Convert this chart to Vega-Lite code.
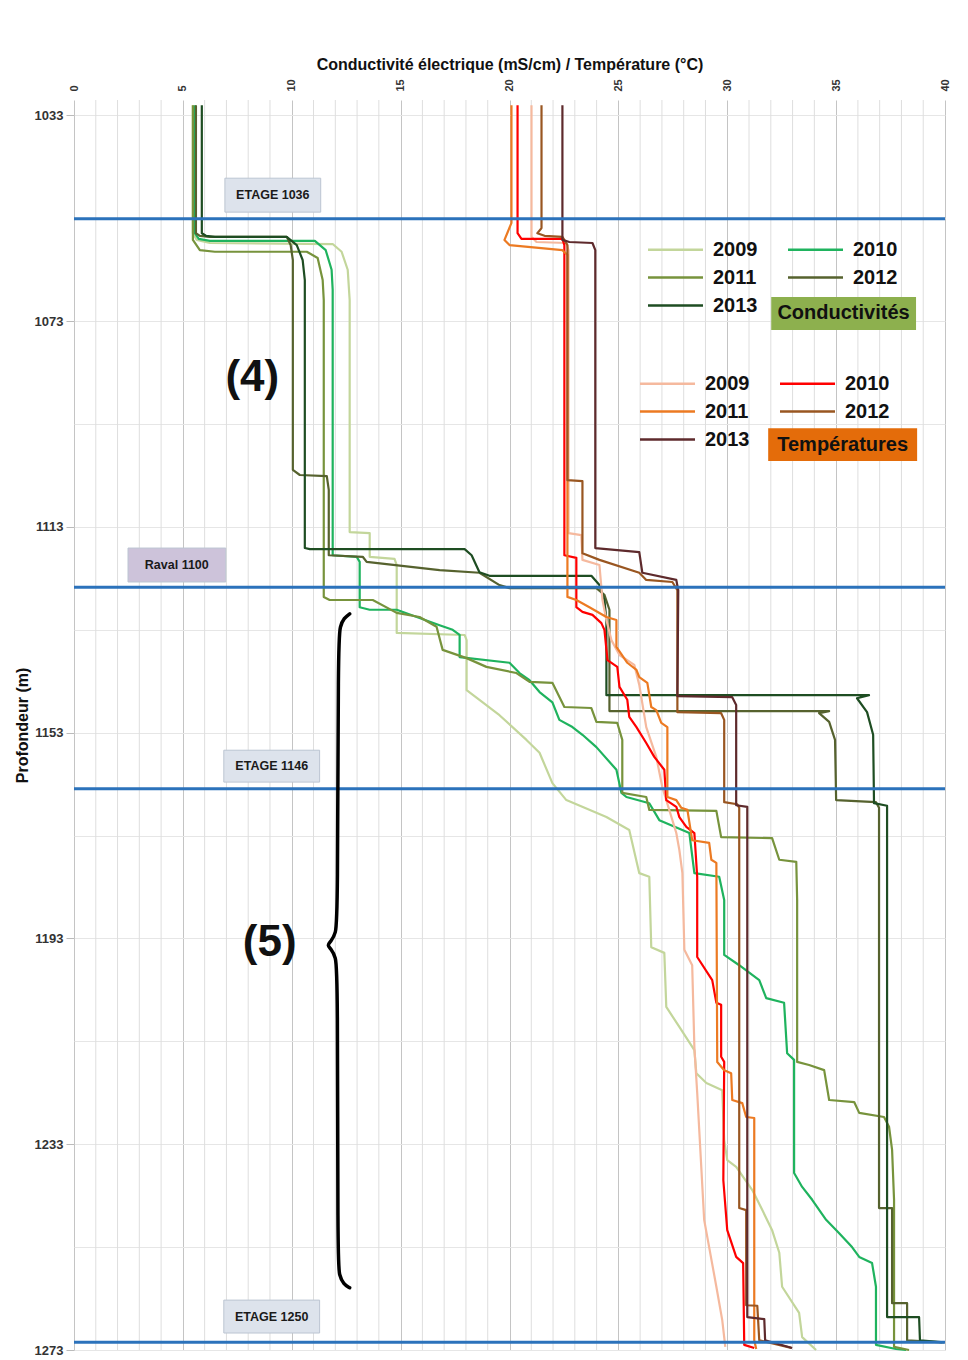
{
  "$schema": "https://vega.github.io/schema/vega-lite/v6.json",
  "width": 871,
  "height": 1250,
  "autosize": {"type": "none"},
  "padding": {"left": 74, "top": 100, "right": 23, "bottom": 10},
  "background": "white",
  "config": {"view": {"stroke": null}, "font": "Liberation Sans"},
  "datasets": {
    "grille": [{"g":1},{"g":2},{"g":3},{"g":4},{"g":6},{"g":7},{"g":8},{"g":9},{"g":11},{"g":12},{"g":13},{"g":14},{"g":16},{"g":17},{"g":18},{"g":19},{"g":21},{"g":22},{"g":23},{"g":24},{"g":26},{"g":27},{"g":28},{"g":29},{"g":31},{"g":32},{"g":33},{"g":34},{"g":36},{"g":37},{"g":38},{"g":39}],
    "cond": [
      {"an":"2009","v":5.46,"d":1031.0},{"an":"2009","v":5.46,"d":1055.9},{"an":"2009","v":5.64,"d":1057.2},{"an":"2009","v":6.24,"d":1057.8},{"an":"2009","v":11.88,"d":1058.0},{"an":"2009","v":12.29,"d":1059.5},{"an":"2009","v":12.57,"d":1063.0},{"an":"2009","v":12.66,"d":1068.9},{"an":"2009","v":12.66,"d":1114.0},{"an":"2009","v":13.58,"d":1114.2},{"an":"2009","v":13.58,"d":1118.8},{"an":"2009","v":14.72,"d":1119.2},{"an":"2009","v":14.82,"d":1120.4},{"an":"2009","v":14.82,"d":1133.6},{"an":"2009","v":17.94,"d":1134.0},{"an":"2009","v":18.03,"d":1135.0},{"an":"2009","v":18.03,"d":1144.7},{"an":"2009","v":18.62,"d":1146.6},{"an":"2009","v":19.54,"d":1149.6},{"an":"2009","v":20.78,"d":1154.4},{"an":"2009","v":21.38,"d":1156.9},{"an":"2009","v":21.97,"d":1162.8},{"an":"2009","v":22.61,"d":1166.1},{"an":"2009","v":24.45,"d":1169.4},{"an":"2009","v":25.50,"d":1171.9},{"an":"2009","v":25.96,"d":1180.3},{"an":"2009","v":26.42,"d":1181.0},{"an":"2009","v":26.51,"d":1194.7},{"an":"2009","v":27.11,"d":1195.8},{"an":"2009","v":27.20,"d":1206.3},{"an":"2009","v":27.80,"d":1210.2},{"an":"2009","v":28.49,"d":1214.7},{"an":"2009","v":28.58,"d":1219.2},{"an":"2009","v":29.04,"d":1221.1},{"an":"2009","v":29.77,"d":1222.5},{"an":"2009","v":29.86,"d":1232.2},{"an":"2009","v":30.00,"d":1236.1},{"an":"2009","v":30.41,"d":1237.4},{"an":"2009","v":31.15,"d":1241.9},{"an":"2009","v":31.61,"d":1245.8},{"an":"2009","v":32.06,"d":1249.7},{"an":"2009","v":32.39,"d":1254.1},{"an":"2009","v":32.52,"d":1260.7},{"an":"2009","v":33.30,"d":1265.8},{"an":"2009","v":33.44,"d":1270.5},{"an":"2009","v":34.08,"d":1273.0},
      {"an":"2010","v":5.55,"d":1031.0},{"an":"2010","v":5.55,"d":1055.9},{"an":"2010","v":5.73,"d":1057.0},{"an":"2010","v":6.24,"d":1057.4},{"an":"2010","v":11.06,"d":1057.4},{"an":"2010","v":11.56,"d":1059.2},{"an":"2010","v":11.83,"d":1063.0},{"an":"2010","v":11.88,"d":1066.9},{"an":"2010","v":11.88,"d":1118.5},{"an":"2010","v":12.98,"d":1118.8},{"an":"2010","v":13.12,"d":1119.8},{"an":"2010","v":13.12,"d":1128.6},{"an":"2010","v":13.58,"d":1129.1},{"an":"2010","v":14.82,"d":1129.1},{"an":"2010","v":16.79,"d":1132.1},{"an":"2010","v":17.39,"d":1133.0},{"an":"2010","v":17.71,"d":1134.0},{"an":"2010","v":17.71,"d":1138.3},{"an":"2010","v":20.00,"d":1139.4},{"an":"2010","v":20.46,"d":1141.4},{"an":"2010","v":20.92,"d":1142.8},{"an":"2010","v":21.38,"d":1145.1},{"an":"2010","v":21.97,"d":1147.1},{"an":"2010","v":22.29,"d":1150.5},{"an":"2010","v":22.89,"d":1151.9},{"an":"2010","v":23.35,"d":1153.4},{"an":"2010","v":23.99,"d":1155.8},{"an":"2010","v":24.91,"d":1160.2},{"an":"2010","v":25.14,"d":1164.7},{"an":"2010","v":25.37,"d":1165.5},{"an":"2010","v":26.42,"d":1166.7},{"an":"2010","v":26.88,"d":1170.0},{"an":"2010","v":28.26,"d":1172.5},{"an":"2010","v":28.49,"d":1180.3},{"an":"2010","v":29.63,"d":1181.0},{"an":"2010","v":29.86,"d":1185.5},{"an":"2010","v":29.86,"d":1196.2},{"an":"2010","v":30.55,"d":1198.2},{"an":"2010","v":31.47,"d":1201.1},{"an":"2010","v":31.79,"d":1204.6},{"an":"2010","v":32.61,"d":1205.5},{"an":"2010","v":32.75,"d":1215.3},{"an":"2010","v":33.07,"d":1216.6},{"an":"2010","v":33.07,"d":1238.6},{"an":"2010","v":33.44,"d":1241.3},{"an":"2010","v":33.90,"d":1243.8},{"an":"2010","v":34.54,"d":1247.7},{"an":"2010","v":35.14,"d":1250.3},{"an":"2010","v":35.73,"d":1253.0},{"an":"2010","v":36.06,"d":1254.9},{"an":"2010","v":36.65,"d":1256.1},{"an":"2010","v":36.83,"d":1260.7},{"an":"2010","v":36.83,"d":1272.0},{"an":"2010","v":37.75,"d":1272.8},{"an":"2010","v":38.21,"d":1273.0},
      {"an":"2011","v":5.46,"d":1031.0},{"an":"2011","v":5.46,"d":1057.2},{"an":"2011","v":5.78,"d":1059.2},{"an":"2011","v":6.47,"d":1059.5},{"an":"2011","v":10.69,"d":1059.5},{"an":"2011","v":11.19,"d":1060.7},{"an":"2011","v":11.42,"d":1065.0},{"an":"2011","v":11.47,"d":1068.9},{"an":"2011","v":11.47,"d":1126.6},{"an":"2011","v":11.74,"d":1127.2},{"an":"2011","v":13.72,"d":1127.2},{"an":"2011","v":14.82,"d":1129.7},{"an":"2011","v":15.87,"d":1130.5},{"an":"2011","v":16.65,"d":1132.4},{"an":"2011","v":16.93,"d":1136.9},{"an":"2011","v":18.03,"d":1138.5},{"an":"2011","v":18.94,"d":1140.2},{"an":"2011","v":20.32,"d":1141.4},{"an":"2011","v":20.92,"d":1143.1},{"an":"2011","v":21.97,"d":1143.3},{"an":"2011","v":22.52,"d":1148.0},{"an":"2011","v":23.76,"d":1148.2},{"an":"2011","v":23.99,"d":1150.9},{"an":"2011","v":24.95,"d":1151.1},{"an":"2011","v":25.18,"d":1154.4},{"an":"2011","v":25.18,"d":1164.7},{"an":"2011","v":26.28,"d":1165.5},{"an":"2011","v":26.42,"d":1168.0},{"an":"2011","v":29.50,"d":1168.2},{"an":"2011","v":29.72,"d":1173.3},{"an":"2011","v":32.06,"d":1173.5},{"an":"2011","v":32.39,"d":1177.7},{"an":"2011","v":33.17,"d":1178.1},{"an":"2011","v":33.21,"d":1185.5},{"an":"2011","v":33.21,"d":1217.0},{"an":"2011","v":33.76,"d":1217.6},{"an":"2011","v":34.45,"d":1218.6},{"an":"2011","v":34.68,"d":1224.4},{"an":"2011","v":35.83,"d":1224.8},{"an":"2011","v":36.06,"d":1226.9},{"an":"2011","v":37.20,"d":1227.7},{"an":"2011","v":37.43,"d":1229.6},{"an":"2011","v":37.57,"d":1234.1},{"an":"2011","v":37.66,"d":1243.8},{"an":"2011","v":37.66,"d":1272.4},{"an":"2011","v":38.35,"d":1273.0},
      {"an":"2012","v":5.60,"d":1031.0},{"an":"2012","v":5.60,"d":1055.9},{"an":"2012","v":5.78,"d":1056.4},{"an":"2012","v":6.24,"d":1056.6},{"an":"2012","v":9.77,"d":1056.6},{"an":"2012","v":9.95,"d":1058.2},{"an":"2012","v":10.05,"d":1061.1},{"an":"2012","v":10.05,"d":1101.9},{"an":"2012","v":10.37,"d":1102.9},{"an":"2012","v":11.61,"d":1103.1},{"an":"2012","v":11.70,"d":1105.8},{"an":"2012","v":11.70,"d":1118.5},{"an":"2012","v":13.26,"d":1118.8},{"an":"2012","v":13.44,"d":1119.8},{"an":"2012","v":16.79,"d":1121.4},{"an":"2012","v":18.62,"d":1121.9},{"an":"2012","v":19.54,"d":1124.3},{"an":"2012","v":20.00,"d":1124.9},{"an":"2012","v":23.99,"d":1124.9},{"an":"2012","v":24.36,"d":1126.2},{"an":"2012","v":24.59,"d":1129.1},{"an":"2012","v":24.59,"d":1148.8},{"an":"2012","v":34.68,"d":1148.8},{"an":"2012","v":34.22,"d":1149.2},{"an":"2012","v":34.68,"d":1150.9},{"an":"2012","v":34.95,"d":1154.4},{"an":"2012","v":35.00,"d":1166.1},{"an":"2012","v":36.83,"d":1166.5},{"an":"2012","v":36.97,"d":1167.6},{"an":"2012","v":36.97,"d":1245.4},{"an":"2012","v":37.57,"d":1245.4},{"an":"2012","v":37.57,"d":1263.9},{"an":"2012","v":38.26,"d":1263.9},{"an":"2012","v":38.26,"d":1271.1},{"an":"2012","v":39.86,"d":1271.5},
      {"an":"2013","v":5.87,"d":1031.0},{"an":"2013","v":5.87,"d":1055.9},{"an":"2013","v":6.06,"d":1056.4},{"an":"2013","v":6.47,"d":1056.6},{"an":"2013","v":9.77,"d":1056.6},{"an":"2013","v":10.23,"d":1058.2},{"an":"2013","v":10.50,"d":1061.1},{"an":"2013","v":10.60,"d":1065.0},{"an":"2013","v":10.60,"d":1117.1},{"an":"2013","v":10.83,"d":1117.3},{"an":"2013","v":17.94,"d":1117.3},{"an":"2013","v":18.26,"d":1118.5},{"an":"2013","v":18.62,"d":1121.8},{"an":"2013","v":19.08,"d":1122.5},{"an":"2013","v":23.76,"d":1122.5},{"an":"2013","v":24.13,"d":1124.3},{"an":"2013","v":24.36,"d":1127.2},{"an":"2013","v":24.45,"d":1131.1},{"an":"2013","v":24.45,"d":1145.7},{"an":"2013","v":36.51,"d":1145.7},{"an":"2013","v":35.96,"d":1146.3},{"an":"2013","v":36.42,"d":1149.0},{"an":"2013","v":36.70,"d":1153.4},{"an":"2013","v":36.74,"d":1166.7},{"an":"2013","v":37.34,"d":1167.2},{"an":"2013","v":37.34,"d":1266.6},{"an":"2013","v":38.81,"d":1266.6},{"an":"2013","v":38.85,"d":1271.1},{"an":"2013","v":39.95,"d":1271.5}
    ],
    "temp": [
      {"an":"2009","v":21.01,"d":1031.0},{"an":"2009","v":21.01,"d":1056.6},{"an":"2009","v":21.24,"d":1057.6},{"an":"2009","v":22.61,"d":1057.8},{"an":"2009","v":22.71,"d":1059.2},{"an":"2009","v":22.71,"d":1114.2},{"an":"2009","v":23.30,"d":1114.6},{"an":"2009","v":23.35,"d":1119.4},{"an":"2009","v":24.13,"d":1120.4},{"an":"2009","v":24.27,"d":1127.2},{"an":"2009","v":24.45,"d":1131.1},{"an":"2009","v":24.68,"d":1135.0},{"an":"2009","v":25.05,"d":1137.9},{"an":"2009","v":25.73,"d":1139.8},{"an":"2009","v":25.96,"d":1143.7},{"an":"2009","v":26.28,"d":1151.9},{"an":"2009","v":26.74,"d":1157.7},{"an":"2009","v":27.02,"d":1163.6},{"an":"2009","v":27.20,"d":1166.1},{"an":"2009","v":27.66,"d":1172.5},{"an":"2009","v":27.80,"d":1175.8},{"an":"2009","v":27.94,"d":1180.3},{"an":"2009","v":28.03,"d":1195.2},{"an":"2009","v":28.39,"d":1198.2},{"an":"2009","v":28.49,"d":1214.1},{"an":"2009","v":28.62,"d":1223.0},{"an":"2009","v":28.94,"d":1247.7},{"an":"2009","v":29.50,"d":1260.7},{"an":"2009","v":29.77,"d":1267.2},{"an":"2009","v":29.91,"d":1272.4},
      {"an":"2010","v":20.37,"d":1031.0},{"an":"2010","v":20.37,"d":1055.9},{"an":"2010","v":20.55,"d":1057.0},{"an":"2010","v":22.43,"d":1057.0},{"an":"2010","v":22.52,"d":1058.2},{"an":"2010","v":22.52,"d":1118.5},{"an":"2010","v":23.07,"d":1119.0},{"an":"2010","v":23.07,"d":1128.6},{"an":"2010","v":23.35,"d":1129.5},{"an":"2010","v":23.81,"d":1130.1},{"an":"2010","v":24.22,"d":1131.7},{"an":"2010","v":24.36,"d":1133.0},{"an":"2010","v":24.50,"d":1138.9},{"an":"2010","v":24.95,"d":1140.2},{"an":"2010","v":25.05,"d":1144.1},{"an":"2010","v":25.41,"d":1146.6},{"an":"2010","v":25.50,"d":1149.9},{"an":"2010","v":25.83,"d":1151.9},{"an":"2010","v":26.28,"d":1155.0},{"an":"2010","v":26.65,"d":1157.7},{"an":"2010","v":27.11,"d":1160.2},{"an":"2010","v":27.20,"d":1166.1},{"an":"2010","v":27.66,"d":1167.4},{"an":"2010","v":27.80,"d":1169.4},{"an":"2010","v":28.12,"d":1171.3},{"an":"2010","v":28.49,"d":1172.5},{"an":"2010","v":28.62,"d":1181.0},{"an":"2010","v":28.62,"d":1196.6},{"an":"2010","v":29.31,"d":1201.1},{"an":"2010","v":29.50,"d":1205.5},{"an":"2010","v":29.72,"d":1205.9},{"an":"2010","v":29.72,"d":1216.0},{"an":"2010","v":29.86,"d":1217.0},{"an":"2010","v":29.82,"d":1240.0},{"an":"2010","v":30.00,"d":1249.7},{"an":"2010","v":30.41,"d":1254.9},{"an":"2010","v":30.73,"d":1256.1},{"an":"2010","v":30.78,"d":1272.0},{"an":"2010","v":31.24,"d":1272.6},
      {"an":"2011","v":20.09,"d":1031.0},{"an":"2011","v":20.09,"d":1053.9},{"an":"2011","v":19.77,"d":1057.2},{"an":"2011","v":20.00,"d":1058.2},{"an":"2011","v":22.43,"d":1059.2},{"an":"2011","v":22.66,"d":1060.1},{"an":"2011","v":22.66,"d":1126.6},{"an":"2011","v":23.07,"d":1127.2},{"an":"2011","v":23.67,"d":1128.6},{"an":"2011","v":24.45,"d":1130.5},{"an":"2011","v":24.91,"d":1131.1},{"an":"2011","v":24.91,"d":1136.3},{"an":"2011","v":25.41,"d":1139.4},{"an":"2011","v":25.83,"d":1140.8},{"an":"2011","v":25.96,"d":1142.2},{"an":"2011","v":26.33,"d":1143.3},{"an":"2011","v":26.51,"d":1148.0},{"an":"2011","v":26.74,"d":1148.6},{"an":"2011","v":26.97,"d":1151.1},{"an":"2011","v":27.25,"d":1151.9},{"an":"2011","v":27.25,"d":1165.5},{"an":"2011","v":27.66,"d":1166.1},{"an":"2011","v":27.89,"d":1167.6},{"an":"2011","v":28.17,"d":1168.0},{"an":"2011","v":28.39,"d":1173.9},{"an":"2011","v":29.17,"d":1174.4},{"an":"2011","v":29.27,"d":1177.7},{"an":"2011","v":29.50,"d":1178.3},{"an":"2011","v":29.54,"d":1217.0},{"an":"2011","v":29.86,"d":1218.6},{"an":"2011","v":30.18,"d":1219.2},{"an":"2011","v":30.23,"d":1224.4},{"an":"2011","v":30.69,"d":1225.0},{"an":"2011","v":30.87,"d":1227.7},{"an":"2011","v":31.24,"d":1227.9},{"an":"2011","v":31.24,"d":1271.1},{"an":"2011","v":31.33,"d":1272.8},
      {"an":"2012","v":21.47,"d":1031.0},{"an":"2012","v":21.47,"d":1054.9},{"an":"2012","v":21.28,"d":1055.9},{"an":"2012","v":21.61,"d":1056.4},{"an":"2012","v":22.43,"d":1056.6},{"an":"2012","v":22.66,"d":1058.2},{"an":"2012","v":22.66,"d":1103.9},{"an":"2012","v":23.35,"d":1104.1},{"an":"2012","v":23.35,"d":1118.1},{"an":"2012","v":24.13,"d":1119.4},{"an":"2012","v":25.96,"d":1121.9},{"an":"2012","v":26.28,"d":1123.3},{"an":"2012","v":27.48,"d":1123.7},{"an":"2012","v":27.71,"d":1125.3},{"an":"2012","v":27.71,"d":1149.0},{"an":"2012","v":29.72,"d":1149.2},{"an":"2012","v":29.86,"d":1150.5},{"an":"2012","v":29.86,"d":1166.5},{"an":"2012","v":30.46,"d":1166.9},{"an":"2012","v":30.55,"d":1167.6},{"an":"2012","v":30.55,"d":1245.4},{"an":"2012","v":30.87,"d":1245.8},{"an":"2012","v":30.87,"d":1264.3},{"an":"2012","v":31.38,"d":1264.4},{"an":"2012","v":31.47,"d":1271.1},{"an":"2012","v":32.94,"d":1272.6},
      {"an":"2013","v":22.43,"d":1031.0},{"an":"2013","v":22.43,"d":1057.2},{"an":"2013","v":22.75,"d":1057.6},{"an":"2013","v":23.81,"d":1057.8},{"an":"2013","v":23.94,"d":1059.2},{"an":"2013","v":23.94,"d":1117.1},{"an":"2013","v":25.96,"d":1117.9},{"an":"2013","v":26.10,"d":1121.9},{"an":"2013","v":27.66,"d":1123.3},{"an":"2013","v":27.75,"d":1125.3},{"an":"2013","v":27.71,"d":1145.9},{"an":"2013","v":30.23,"d":1146.1},{"an":"2013","v":30.41,"d":1147.6},{"an":"2013","v":30.41,"d":1167.1},{"an":"2013","v":30.92,"d":1167.4},{"an":"2013","v":30.92,"d":1266.6},{"an":"2013","v":31.70,"d":1267.0},{"an":"2013","v":31.74,"d":1271.1},{"an":"2013","v":32.98,"d":1272.6}
    ],
    "niveaux": [{"d":1053.1},{"d":1124.7},{"d":1163.9},{"d":1271.5}],
    "cadres": [
      {"type":"etage","texte":"ETAGE 1036","v1":6.93,"v2":11.33,"d1":1045.2,"d2":1051.8,"v":9.13,"d":1048.5},
      {"type":"raval","texte":"Raval 1100","v1":2.48,"v2":6.97,"d1":1117.1,"d2":1123.7,"v":4.72,"d":1120.4},
      {"type":"etage","texte":"ETAGE 1146","v1":6.88,"v2":11.28,"d1":1156.4,"d2":1162.6,"v":9.08,"d":1159.5},
      {"type":"etage","texte":"ETAGE 1250","v1":6.88,"v2":11.28,"d1":1263.3,"d2":1269.7,"v":9.08,"d":1266.5},
      {"type":"cond","texte":"Conductivités","v1":32.02,"v2":38.67,"d1":1068.3,"d2":1074.7,"v":35.34,"d":1071.5},
      {"type":"temp","texte":"Températures","v1":31.88,"v2":38.72,"d1":1093.8,"d2":1100.2,"v":35.30,"d":1097.0}
    ],
    "zones": [{"texte":"(4)","v":8.19,"d":1084.0},{"texte":"(5)","v":8.99,"d":1193.9}],
    "accolade": [
      {"v":12.66,"d":1129.9},{"v":12.40,"d":1130.7},{"v":12.22,"d":1132.3},{"v":12.13,"d":1135.0},{"v":12.11,"d":1189.0},{"v":12.02,"d":1192.0},{"v":11.80,"d":1193.6},{"v":11.62,"d":1194.3},{"v":11.80,"d":1195.0},{"v":12.02,"d":1196.6},{"v":12.11,"d":1199.6},{"v":12.11,"d":1255.7},{"v":12.18,"d":1258.5},{"v":12.38,"d":1260.2},{"v":12.66,"d":1260.9}
    ]
  },
  "layer": [
    {
      "data": {"name": "grille"},
      "mark": {"type": "rule", "color": "#dedede", "strokeWidth": 1},
      "encoding": {
        "x": {"field": "g", "type": "quantitative", "scale": {"domain": [0, 40], "nice": false, "zero": false}}
      }
    },
    {
      "data": {"name": "cond"},
      "mark": {"type": "line", "strokeWidth": 2.2, "strokeJoin": "round"},
      "encoding": {
        "x": {"field": "v", "type": "quantitative",
          "scale": {"domain": [0, 40], "nice": false, "zero": false},
          "axis": {
            "orient": "top",
            "title": "Conductivité électrique (mS/cm) / Température (°C)",
            "titleFont": "Liberation Sans", "titleFontSize": 16, "titleFontWeight": "bold", "titleColor": "#111111", "titlePadding": 6,
            "values": [0,5,10,15,20,25,30,35,40],
            "labelOverlap": false,
            "labelAngle": 270, "labelFont": "Liberation Sans", "labelFontSize": 11, "labelFontWeight": "bold", "labelColor": "#333333", "labelPadding": 9,
            "ticks": false, "domain": false, "grid": true, "gridColor": "#c4c4c4", "gridWidth": 1
          }},
        "y": {"field": "d", "type": "quantitative",
          "scale": {"domain": [1030, 1273], "reverse": true, "nice": false, "zero": false},
          "axis": {
            "title": "Profondeur (m)",
            "titleFont": "Liberation Sans", "titleFontSize": 16, "titleFontWeight": "bold", "titleColor": "#111111", "titlePadding": 4,
            "values": [1033,1053,1073,1093,1113,1133,1153,1173,1193,1213,1233,1253,1273],
            "labelExpr": "(datum.value - 1033) % 40 === 0 ? datum.label : ''",
            "labelOverlap": false,
            "format": "d",
            "labelFont": "Liberation Sans", "labelFontSize": 13, "labelFontWeight": "bold", "labelColor": "#333333", "labelPadding": 3,
            "ticks": true, "tickSize": 8,
            "tickColor": {"condition": {"test": "(datum.value - 1033) % 40 === 0", "value": "#bbbbbb"}, "value": "transparent"},
            "domain": false, "grid": true, "gridColor": "#e6e6e6", "gridWidth": 1
          }},
        "color": {"field": "an", "type": "nominal",
          "scale": {"domain": ["2009","2010","2011","2012","2013"], "range": ["#c3d69b","#1fb35e","#77933c","#56622e","#1e4d22"]},
          "legend": {"orient": "none", "legendX": 589, "legendY": 137, "padding": 0, "columns": 2, "title": null, "direction": "horizontal",
            "symbolType": "M-2.5,0H2.5", "symbolSize": 484, "symbolStrokeWidth": 2.5,
            "labelFont": "Liberation Sans", "labelFontSize": 20, "labelFontWeight": "bold", "labelColor": "#111111",
            "labelOffset": 25, "rowPadding": 5, "columnPadding": 25}},
        "order": {"value": null}
      }
    },
    {
      "data": {"name": "temp"},
      "mark": {"type": "line", "strokeWidth": 2.2, "strokeJoin": "round"},
      "encoding": {
        "x": {"field": "v", "type": "quantitative", "scale": {"domain": [0, 40], "nice": false, "zero": false}},
        "y": {"field": "d", "type": "quantitative", "scale": {"domain": [1030, 1273], "reverse": true, "nice": false, "zero": false}},
        "color": {"field": "an", "type": "nominal",
          "scale": {"domain": ["2009","2010","2011","2012","2013"], "range": ["#f5b99e","#ff0000","#ec7a22","#995621","#5e2a2c"]},
          "legend": {"orient": "none", "legendX": 581, "legendY": 271, "padding": 0, "columns": 2, "title": null, "direction": "horizontal",
            "symbolType": "M-2.5,0H2.5", "symbolSize": 484, "symbolStrokeWidth": 2.5,
            "labelFont": "Liberation Sans", "labelFontSize": 20, "labelFontWeight": "bold", "labelColor": "#111111",
            "labelOffset": 25, "rowPadding": 5, "columnPadding": 25}},
        "order": {"value": null}
      }
    },
    {
      "data": {"name": "niveaux"},
      "mark": {"type": "rule", "color": "#2b72bb", "strokeWidth": 3},
      "encoding": {
        "y": {"field": "d", "type": "quantitative", "scale": {"domain": [1030, 1273], "reverse": true, "nice": false, "zero": false}}
      }
    },
    {
      "data": {"name": "accolade"},
      "mark": {"type": "line", "color": "#000000", "strokeWidth": 3.5, "interpolate": "basis", "strokeCap": "round"},
      "encoding": {
        "x": {"field": "v", "type": "quantitative", "scale": {"domain": [0, 40], "nice": false, "zero": false}},
        "y": {"field": "d", "type": "quantitative", "scale": {"domain": [1030, 1273], "reverse": true, "nice": false, "zero": false}},
        "order": {"value": null}
      }
    },
    {
      "data": {"name": "cadres"},
      "mark": {"type": "rect", "strokeWidth": 1},
      "encoding": {
        "x": {"field": "v1", "type": "quantitative", "scale": {"domain": [0, 40], "nice": false, "zero": false}},
        "x2": {"field": "v2"},
        "y": {"field": "d1", "type": "quantitative", "scale": {"domain": [1030, 1273], "reverse": true, "nice": false, "zero": false}},
        "y2": {"field": "d2"},
        "fill": {"field": "type", "type": "nominal",
          "scale": {"domain": ["etage","raval","cond","temp"], "range": ["#dde3ec","#cdc3da","#8db04e","#e46c0a"]},
          "legend": null},
        "stroke": {"condition": {"test": "datum.type === 'etage' || datum.type === 'raval'", "value": "#bcc5d2"}, "value": null}
      }
    },
    {
      "data": {"name": "cadres"},
      "transform": [{"filter": "datum.type === 'etage' || datum.type === 'raval'"}],
      "mark": {"type": "text", "font": "Liberation Sans", "fontSize": 12.5, "fontWeight": "bold", "color": "#1a1a1a", "align": "center", "baseline": "middle"},
      "encoding": {
        "x": {"field": "v", "type": "quantitative", "scale": {"domain": [0, 40], "nice": false, "zero": false}},
        "y": {"field": "d", "type": "quantitative", "scale": {"domain": [1030, 1273], "reverse": true, "nice": false, "zero": false}},
        "text": {"field": "texte"}
      }
    },
    {
      "data": {"name": "cadres"},
      "transform": [{"filter": "datum.type === 'cond' || datum.type === 'temp'"}],
      "mark": {"type": "text", "font": "Liberation Sans", "fontSize": 20, "fontWeight": "bold", "color": "#111111", "align": "center", "baseline": "middle"},
      "encoding": {
        "x": {"field": "v", "type": "quantitative", "scale": {"domain": [0, 40], "nice": false, "zero": false}},
        "y": {"field": "d", "type": "quantitative", "scale": {"domain": [1030, 1273], "reverse": true, "nice": false, "zero": false}},
        "text": {"field": "texte"}
      }
    },
    {
      "data": {"name": "zones"},
      "mark": {"type": "text", "font": "Liberation Sans", "fontSize": 44, "fontWeight": "bold", "color": "#111111", "align": "center", "baseline": "middle"},
      "encoding": {
        "x": {"field": "v", "type": "quantitative", "scale": {"domain": [0, 40], "nice": false, "zero": false}},
        "y": {"field": "d", "type": "quantitative", "scale": {"domain": [1030, 1273], "reverse": true, "nice": false, "zero": false}},
        "text": {"field": "texte"}
      }
    }
  ],
  "resolve": {"scale": {"color": "independent"}}
}
